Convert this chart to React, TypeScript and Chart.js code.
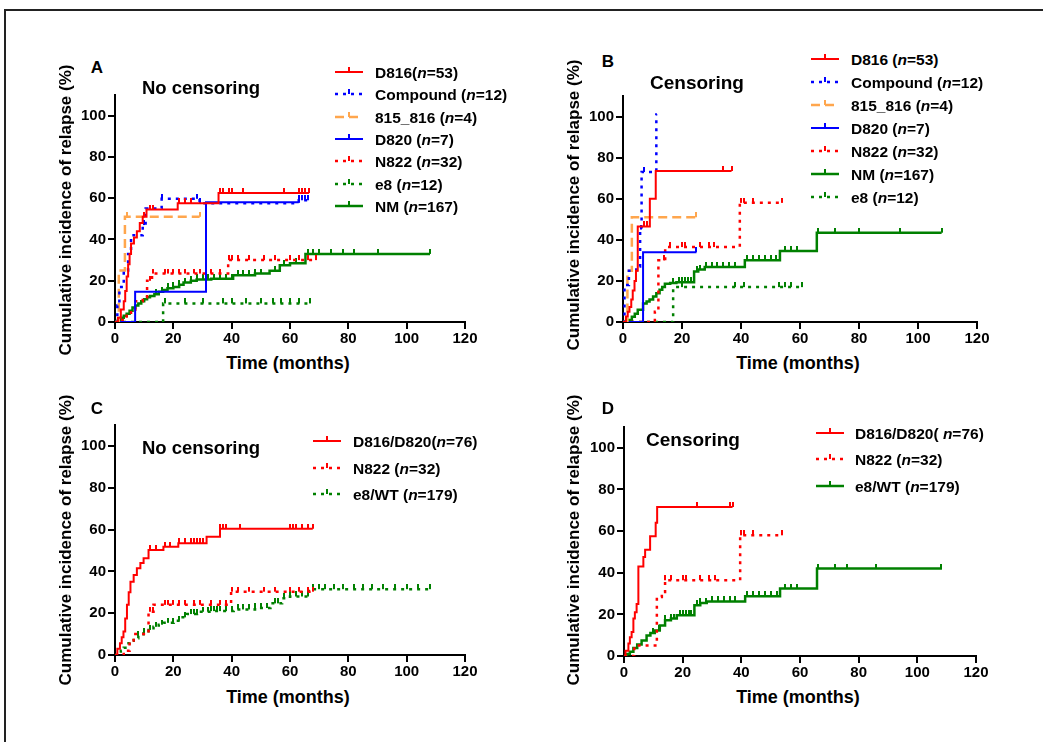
import React, { useEffect, useRef } from "react";
import { Chart, registerables } from "chart.js";
Chart.register(...registerables);

const RED = "#ff0000";
const BLUE = "#0000ff";
const ORANGE = "#ffa64d";
const GREEN = "#008000";
const FONT = "'Liberation Sans', Arial, sans-serif";

const xTicks = [0, 20, 40, 60, 80, 100, 120];
const yTicks = [0, 20, 40, 60, 80, 100];

// ---------- Panel A (no censoring) ----------
const aD816T = [0, 1, 2, 3, 3.5, 4, 4.5, 5, 5.5, 6.5, 7.5, 8.5, 9.5, 10.8, 21.5, 35.5, 66.5];
const aD816Y = [0, 2, 6, 10, 15, 22, 28, 33, 38, 41, 44, 48, 51, 54.5, 57.5, 62.5, 62.5];
const aD816C = [10, 12, 13, 22, 24, 26, 36, 37, 39, 40, 44, 58, 63, 64, 65, 66.5];
const aCompT = [0, 0.8, 1.5, 3, 4.5, 5.5, 9.5, 10.5, 16, 29, 63, 66];
const aCompY = [0, 8, 17, 25, 33, 42, 47, 55, 59.7, 57.5, 59, 59];
const aCompC = [10, 16, 28, 29, 63, 64, 65, 66];
const a815T = [0, 1.3, 3.4, 29];
const a815Y = [0, 25, 51, 51];
const a815C = [4, 29];
const aD820T = [0, 6.9, 31.2, 63];
const aD820Y = [0, 14.6, 58, 58];
const aD820C = [63];
const aN822T = [0, 2, 4, 5.5, 7, 9.5, 11, 12.7, 38.8, 69];
const aN822Y = [0, 1, 3, 6, 10, 12, 20, 23.5, 30, 30];
const aN822C = [12, 13, 17, 18, 20, 22, 24, 27, 29, 33, 36, 39, 40, 42, 46, 51, 55, 60, 63, 66, 69];
const aE8T = [0, 16.5, 67];
const aE8Y = [0, 9, 9];
const aE8C = [17, 24, 30, 37, 40, 45, 50, 54, 57, 60, 63, 67];
const aNMT = [0, 1, 2, 3, 4, 5, 6, 7, 8, 9, 10, 11, 12, 13.5, 15, 16.5, 18, 20, 22, 23.5, 26, 28, 33, 40.5, 48, 53, 56.5, 60, 65.3, 108];
const aNMY = [0, 1, 2, 3, 4, 5.5, 7, 8, 9, 10, 11, 12, 12.6, 13.5, 14.7, 15.5, 16.3, 17, 18, 19.1, 20, 20.6, 21, 22.7, 23.5, 24.8, 27.5, 28.5, 33, 33];
const aNMC = [14, 16, 18, 20, 22, 24, 26, 28, 30, 32, 34, 36, 38, 40, 42, 44, 46, 48, 50, 55, 58, 62, 66, 68, 70, 74, 78, 82, 90, 108];

// ---------- Panel B (censoring) ----------
const bD816T = [0, 1, 1.6, 2.2, 2.8, 3.3, 3.9, 4.4, 5, 9.1, 11.1, 36.8];
const bD816Y = [0, 2.7, 5, 7.3, 11, 15.3, 20, 25, 46.5, 60, 73.5, 73.5];
const bD816C = [7, 8, 34, 36.8];
const bCompT = [0, 0.5, 2, 4.5, 5.8, 6.3, 11.3, 11.5];
const bCompY = [0, 18, 25, 27, 45, 73, 101, 101];
const bCompC = [6, 7];
const b815T = [0, 1.5, 3, 24.9];
const b815Y = [0, 25, 51, 51];
const b815C = [24.9];
const bD820T = [0, 6.8, 24.9];
const bD820Y = [0, 34, 34];
const bD820C = [24.9];
const bN822T = [0, 10.8, 12, 14.3, 39.6, 53.8];
const bN822Y = [0, 5, 30, 36.5, 58, 58];
const bN822C = [14, 16, 20, 21, 26, 29, 31, 40, 41, 44, 53.8];
const bNMT = [0, 1, 2, 3, 4, 5, 6.8, 8, 9, 10.2, 11.3, 12.4, 13.3, 14.2, 16, 18.1, 24.1, 25.5, 27.7, 41.3, 53.2, 65.7, 108];
const bNMY = [0, 0.5, 1, 2.5, 4, 6, 9, 10, 11, 12.4, 14, 15.7, 17, 18.6, 19, 19.4, 24.6, 25.5, 26.8, 30, 34.5, 43.5, 43.5];
const bNMC = [17, 19, 20, 21, 22, 23, 25, 26, 28, 30, 32, 34, 36, 38, 42, 44, 46, 48, 50, 52, 55, 57, 59, 66, 72, 80, 94, 108];
const bE8T = [0, 17, 60.6];
const bE8Y = [0, 17, 17];
const bE8C = [20, 38, 41, 53, 55, 57, 60.6];

// ---------- Panel C (no censoring) ----------
const cD816T = [0, 0.8, 1.7, 2.3, 2.9, 3.5, 4.1, 4.7, 5.3, 6.4, 7.5, 8.7, 9.8, 11.5, 16.6, 21.7, 31.4, 36, 67.8];
const cD816Y = [0, 3, 5.6, 8.5, 11.2, 17.5, 24, 30, 35, 38.3, 41.5, 44, 46.3, 50.2, 51.8, 53.4, 56.6, 60.4, 60.4];
const cD816C = [12, 14, 17, 19, 22, 24, 26, 27, 28, 29, 30, 36, 37, 38, 43, 60, 61, 62, 64, 66, 67.8];
const cN822T = [0, 3, 5, 6.4, 11.5, 13.2, 39.8, 68];
const cN822Y = [0, 2, 6, 10, 20.7, 24, 30.3, 30.3];
const cN822C = [12, 13, 17, 18, 20, 22, 24, 27, 29, 33, 36, 38, 40, 42, 46, 51, 55, 60, 63, 66, 68];
const cE8T = [0, 1, 2, 3, 4.1, 5, 6.4, 8, 9.8, 11.5, 13.2, 15, 16.6, 20.1, 22.5, 24.7, 28.1, 33, 40.7, 48, 53.3, 57.3, 60, 66.4, 108];
const cE8Y = [0, 1, 2, 3.5, 5.6, 6.8, 8, 9.2, 10.4, 12, 13.5, 14.5, 15.4, 16.4, 18, 19.6, 20.7, 21, 21.8, 22.5, 24.7, 27.1, 28, 31.5, 31.5];
const cE8C = [8, 10, 12, 14, 16, 18, 20, 22, 24, 26, 27, 28, 30, 32, 33, 34, 35, 36, 38, 40, 42, 44, 46, 48, 50, 52, 55, 56, 58, 60, 62, 64, 66, 68, 70, 72, 75, 78, 82, 85, 88, 92, 96, 100, 104, 108];

// ---------- Panel D (censoring) ----------
const dD816T = [0, 0.5, 1.5, 2, 2.6, 3.2, 3.7, 4.3, 4.9, 6.6, 7.2, 8.9, 10.8, 11.3, 37];
const dD816Y = [0, 2.5, 6, 9, 11.5, 18, 21, 25, 43, 47.6, 51, 57.5, 64, 71.6, 71.6];
const dD816C = [25, 36, 37];
const dN822T = [0, 3.5, 11.2, 12.9, 14, 39.6, 53.8];
const dN822Y = [0, 5, 28.4, 30.8, 36.4, 58, 58];
const dN822C = [14, 16, 20, 21, 26, 29, 31, 40, 41, 44, 53.8];
const dE8T = [0, 1, 2, 3.2, 4.5, 6, 7.7, 9, 10.5, 12.2, 14, 16, 18, 24, 26, 28.2, 41.3, 53.2, 65.8, 108.4];
const dE8Y = [0, 1, 2, 3.8, 5.5, 7.5, 9.9, 11, 12.3, 14.7, 17.2, 18, 19.6, 24.4, 25.5, 26.2, 28.7, 32.4, 42, 42];
const dE8C = [10, 12, 14, 16, 17, 19, 20, 21, 22, 23, 25, 26, 28, 30, 32, 34, 36, 38, 42, 44, 46, 48, 50, 52, 55, 57, 59, 66, 72, 76, 86, 108];

type Series = { T: number[]; Y: number[]; C: number[]; color: string; dash: number[]; width: number };

const SOLID: number[] = [];
const DOT = [3, 5];
const DASH = [9, 5];

const seriesA: Series[] = [
  { T: aD816T, Y: aD816Y, C: aD816C, color: RED, dash: SOLID, width: 2 },
  { T: aCompT, Y: aCompY, C: aCompC, color: BLUE, dash: DOT, width: 2.5 },
  { T: a815T, Y: a815Y, C: a815C, color: ORANGE, dash: DASH, width: 2.5 },
  { T: aD820T, Y: aD820Y, C: aD820C, color: BLUE, dash: SOLID, width: 2 },
  { T: aN822T, Y: aN822Y, C: aN822C, color: RED, dash: DOT, width: 2.5 },
  { T: aE8T, Y: aE8Y, C: aE8C, color: GREEN, dash: DOT, width: 2.5 },
  { T: aNMT, Y: aNMY, C: aNMC, color: GREEN, dash: SOLID, width: 2.5 },
];
const seriesB: Series[] = [
  { T: bD816T, Y: bD816Y, C: bD816C, color: RED, dash: SOLID, width: 2 },
  { T: bCompT, Y: bCompY, C: bCompC, color: BLUE, dash: DOT, width: 2.5 },
  { T: b815T, Y: b815Y, C: b815C, color: ORANGE, dash: DASH, width: 2.5 },
  { T: bD820T, Y: bD820Y, C: bD820C, color: BLUE, dash: SOLID, width: 2 },
  { T: bN822T, Y: bN822Y, C: bN822C, color: RED, dash: DOT, width: 2.5 },
  { T: bNMT, Y: bNMY, C: bNMC, color: GREEN, dash: SOLID, width: 2.5 },
  { T: bE8T, Y: bE8Y, C: bE8C, color: GREEN, dash: DOT, width: 2.5 },
];
const seriesC: Series[] = [
  { T: cD816T, Y: cD816Y, C: cD816C, color: RED, dash: SOLID, width: 2 },
  { T: cN822T, Y: cN822Y, C: cN822C, color: RED, dash: DOT, width: 2.5 },
  { T: cE8T, Y: cE8Y, C: cE8C, color: GREEN, dash: DOT, width: 2.5 },
];
const seriesD: Series[] = [
  { T: dD816T, Y: dD816Y, C: dD816C, color: RED, dash: SOLID, width: 2 },
  { T: dN822T, Y: dN822Y, C: dN822C, color: RED, dash: DOT, width: 2.5 },
  { T: dE8T, Y: dE8Y, C: dE8C, color: GREEN, dash: SOLID, width: 2.5 },
];

const legendA = [
  ["D816(", "=53)"], ["Compound (", "=12)"], ["815_816 (", "=4)"], ["D820 (", "=7)"],
  ["N822 (", "=32)"], ["e8 (", "=12)"], ["NM (", "=167)"],
];
const legendB = [
  ["D816 (", "=53)"], ["Compound (", "=12)"], ["815_816 (", "=4)"], ["D820 (", "=7)"],
  ["N822 (", "=32)"], ["NM (", "=167)"], ["e8 (", "=12)"],
];
const legendC = [["D816/D820(", "=76)"], ["N822 (", "=32)"], ["e8/WT (", "=179)"]];
const legendD = [["D816/D820( ", "=76)"], ["N822 (", "=32)"], ["e8/WT (", "=179)"]];

function stepAt(T: number[], Y: number[], x: number) {
  let v = Y[0];
  for (let i = 0; i < T.length; i++) if (T[i] <= x) v = Y[i];
  return v;
}

function tickImage(color: string) {
  const c = document.createElement("canvas");
  c.width = 2;
  c.height = 10;
  const g = c.getContext("2d")!;
  g.fillStyle = color;
  g.fillRect(0, 0, 2, 5);
  return c;
}

const PAD_TOP = 12, PAD_RIGHT = 22, Y_W = 42, X_H = 28;

function Panel({ L, R, T, B, series }: { L: number; R: number; T: number; B: number; series: Series[] }) {
  const ref = useRef<HTMLCanvasElement>(null);
  const left = L - Y_W;
  const top = T - PAD_TOP;
  const width = R - L + Y_W + PAD_RIGHT;
  const height = B - T + PAD_TOP + X_H;
  useEffect(() => {
    const datasets: any[] = [];
    series.forEach((s) => {
      datasets.push({
        type: "line",
        data: s.T.map((t, i) => ({ x: t, y: s.Y[i] })),
        borderColor: s.color,
        borderWidth: s.width,
        borderDash: s.dash,
        stepped: "before",
        pointRadius: 0,
        fill: false,
        tension: 0,
      });
      datasets.push({
        type: "scatter",
        data: s.C.map((x) => ({ x, y: stepAt(s.T, s.Y, x) })),
        pointStyle: tickImage(s.color),
        pointRadius: 5,
        showLine: false,
      });
    });
    const tickFont = { family: FONT, weight: "bold" as const, size: 15 };
    const chart = new Chart(ref.current!, {
      type: "line",
      data: { datasets },
      options: {
        responsive: false,
        animation: false,
        devicePixelRatio: 1,
        events: [],
        layout: { padding: { top: PAD_TOP, right: PAD_RIGHT, left: 0, bottom: 0 } },
        plugins: { legend: { display: false }, tooltip: { enabled: false } },
        scales: {
          x: {
            type: "linear",
            min: 0,
            max: 120,
            afterBuildTicks: (s: any) => { s.ticks = xTicks.map((v) => ({ value: v })); },
            ticks: { font: tickFont, color: "#000", padding: 1, maxRotation: 0, autoSkip: false },
            grid: { drawOnChartArea: false, drawTicks: true, tickLength: 7, color: "#000", lineWidth: 2 },
            border: { display: true, color: "#000", width: 2 },
            afterFit: (s: any) => { s.height = X_H; },
          },
          y: {
            type: "linear",
            min: 0,
            max: 110,
            afterBuildTicks: (s: any) => { s.ticks = yTicks.map((v) => ({ value: v })); },
            ticks: { font: tickFont, color: "#000", padding: 2, autoSkip: false },
            grid: { drawOnChartArea: false, drawTicks: true, tickLength: 7, color: "#000", lineWidth: 2 },
            border: { display: true, color: "#000", width: 2 },
            afterFit: (s: any) => { s.width = Y_W; },
          },
        },
      } as any,
    });
    return () => chart.destroy();
  }, []);
  return (
    <canvas
      ref={ref}
      width={width}
      height={height}
      style={{ position: "absolute", left, top, width, height }}
    />
  );
}

const txt = (extra: React.CSSProperties): React.CSSProperties => ({
  position: "absolute",
  fontFamily: FONT,
  fontWeight: "bold",
  color: "#000",
  whiteSpace: "nowrap",
  lineHeight: 1,
  ...extra,
});

function Centered({ x, y, size, children, rotate }: { x: number; y: number; size: number; children: React.ReactNode; rotate?: boolean }) {
  return (
    <div
      style={txt({
        left: x,
        top: y,
        fontSize: size,
        transform: `translate(-50%, -50%)${rotate ? " rotate(-90deg)" : ""}`,
      })}
    >
      {children}
    </div>
  );
}

function Legend({ symX, textX, rows, items, series }: { symX: number; textX: number; rows: number[]; items: string[][]; series: Series[] }) {
  return (
    <>
      {items.map((it, i) => {
        const s = series[i];
        const dash = s.dash.length ? s.dash.join(" ") : undefined;
        return (
          <React.Fragment key={i}>
            <svg
              width={28}
              height={12}
              style={{ position: "absolute", left: symX, top: rows[i] - 9 }}
            >
              <line x1={0} y1={8} x2={28} y2={8} stroke={s.color} strokeWidth={s.width} strokeDasharray={dash} />
              <line x1={14} y1={3} x2={14} y2={8} stroke={s.color} strokeWidth={2} />
            </svg>
            <div style={txt({ left: textX, top: rows[i], fontSize: 15.5, transform: "translateY(-50%)" })}>
              {it[0]}
              <i>n</i>
              {it[1]}
            </div>
          </React.Fragment>
        );
      })}
    </>
  );
}

const Y_TITLE = "Cumulative incidence of relapse (%)";
const X_TITLE = "Time (months)";

export default function App() {
  return (
    <div style={{ position: "fixed", left: 0, top: 0, width: 1043, height: 742, overflow: "hidden", background: "#fff" }}>
      <div style={{ position: "absolute", left: 4, top: 9, width: 1100, height: 800, border: "2px solid #222" }} />

      <Panel L={115} R={465} T={95} B={322} series={seriesA} />
      <Panel L={623} R={977} T={96} B={322} series={seriesB} />
      <Panel L={115} R={465} T={425} B={655} series={seriesC} />
      <Panel L={624} R={976} T={427} B={656} series={seriesD} />

      <Centered x={97} y={67} size={17}>A</Centered>
      <Centered x={608} y={61} size={17}>B</Centered>
      <Centered x={97} y={408} size={17}>C</Centered>
      <Centered x={608} y={408} size={17}>D</Centered>

      <Centered x={201} y={88} size={18.5}>No censoring</Centered>
      <Centered x={697} y={82} size={19}>Censoring</Centered>
      <Centered x={201} y={448} size={18.5}>No censoring</Centered>
      <Centered x={693} y={439} size={19}>Censoring</Centered>

      <Centered x={65} y={210} size={17} rotate>{Y_TITLE}</Centered>
      <Centered x={573} y={205} size={17} rotate>{Y_TITLE}</Centered>
      <Centered x={65} y={540} size={17} rotate>{Y_TITLE}</Centered>
      <Centered x={573} y={540} size={17} rotate>{Y_TITLE}</Centered>

      <Centered x={288} y={363} size={18}>{X_TITLE}</Centered>
      <Centered x={798} y={363} size={18}>{X_TITLE}</Centered>
      <Centered x={288} y={697} size={18}>{X_TITLE}</Centered>
      <Centered x={798} y={697} size={18}>{X_TITLE}</Centered>

      <Legend symX={335} textX={375} rows={[73, 95, 117.5, 140, 162, 184.5, 207]} items={legendA} series={seriesA} />
      <Legend symX={811} textX={851} rows={[60, 83, 106, 129, 152, 175, 198]} items={legendB} series={seriesB} />
      <Legend symX={313} textX={353} rows={[442, 469, 495]} items={legendC} series={seriesC} />
      <Legend symX={816} textX={855} rows={[434, 460, 487]} items={legendD} series={seriesD} />
    </div>
  );
}
